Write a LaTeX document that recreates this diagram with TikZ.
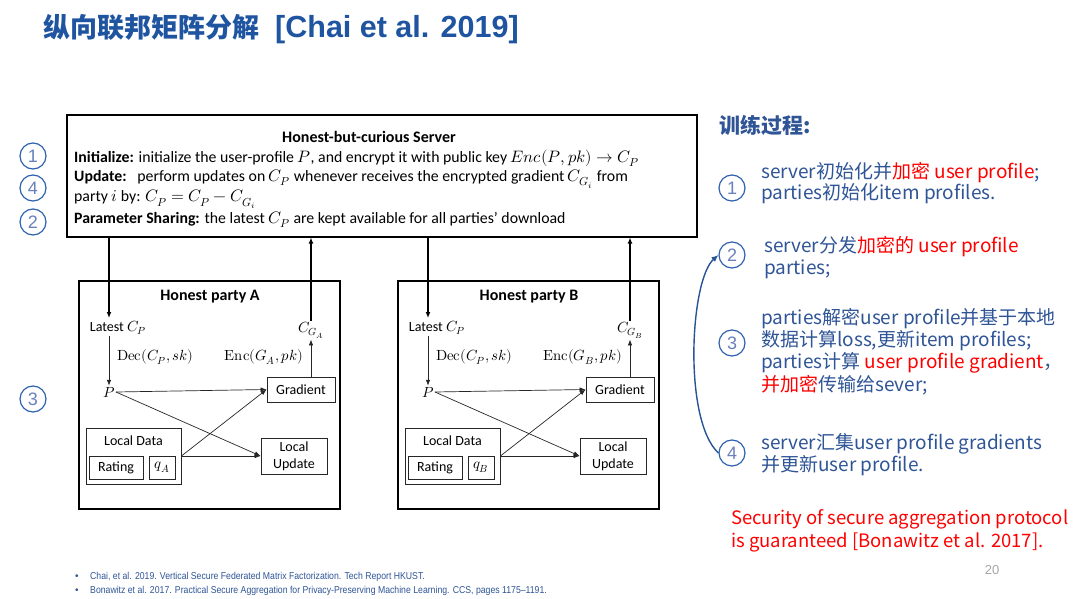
\documentclass[tikz,border=0pt]{standalone}
\usepackage{fontspec}
\usepackage{unicode-math}
\setmainfont{Carlito}
\setmathfont{Latin Modern Math}[Scale=1.05]
\newfontfamily\cjk{Noto Sans CJK SC}
\newfontfamily\arialf{Liberation Sans}
\usetikzlibrary{arrows.meta}
\definecolor{titleblue}{HTML}{1F55A0}
\definecolor{txtblue}{HTML}{2F5597}
\definecolor{circblue}{HTML}{2F62B0}
\definecolor{numblue}{HTML}{6A80BC}
\definecolor{pgray}{HTML}{A6A6A6}
\newcommand\fsz[2]{\fontsize{#1}{#2}\selectfont}
\tikzset{
  box/.style={draw=black, line width=1.1pt, inner sep=0pt},
  sbox/.style={draw=black!85, line width=0.8pt, inner sep=0pt, font=\fsz{14}{17}, align=center},
  bigarr/.style={line width=1.3pt, -{Latex[length=6pt,width=5pt]}},
  thinarr/.style={line width=0.7pt, draw=black!85, -{Latex[length=6pt,width=4.5pt]}},
  numc/.style={circle, draw=circblue, line width=1.2pt, minimum size=26pt, inner sep=0pt, text=numblue, font=\arialf\fsz{18}{18}},
  rtxt/.style={anchor=base west, inner sep=0pt, font=\cjk\fsz{19}{22}, text=txtblue},
  ltxt/.style={anchor=base west, inner sep=0pt, font=\fsz{15.8}{18}},
  lbl/.style={inner sep=1pt, font=\fsz{14}{16}},
}
\newcommand\party[2]{%
\begin{scope}[xshift=#2]
  \node[box, minimum width=261pt, minimum height=228pt] (box#1) at (209.5,395) {};
  \node[font=\bfseries\fsz{16}{18}] (title#1) at (210,297) {Honest party #1};
  \node[lbl] (lat#1) at (118,328) {Latest $C_P$};
  \node[lbl] (P#1) at (109,392) {$P$};
  \node[lbl, anchor=west] (dec#1) at (116,357) {$\symup{Dec}(C_P, sk)$};
  \node[lbl] (cg#1) at (311,330) {$C_{G_#1}$};
  \node[lbl, anchor=east] (enc#1) at (304,357) {$\symup{Enc}(G_#1, pk)$};
  \node[sbox, minimum width=68pt, minimum height=25pt] (grad#1) at (301,389.5) {Gradient};
  \node[sbox, minimum width=95pt, minimum height=56pt] (ld#1) at (133.5,456) {};
  \node[inner sep=0pt, font=\fsz{14}{16}] (ldt#1) at (133.5,441) {Local Data};
  \node[sbox, minimum width=54pt, minimum height=23pt] (rat#1) at (116,467.5) {Rating};
  \node[sbox, minimum width=26pt, minimum height=23pt] (q#1) at (162,467.5) {$q_#1$};
  \node[sbox, minimum width=66pt, minimum height=36pt] (lu#1) at (294,456) {Local\\Update};
  \coordinate (in#1) at (109,318);
  \draw[bigarr] (server.south -| in#1) -- (in#1);
  \draw[bigarr] (cg#1.north) -- (server.south -| cg#1.north);
  \draw[thinarr] (P#1 |- lat#1.south) -- (P#1.north);
  \draw[thinarr] (grad#1.north -| cg#1) -- (cg#1.south);
  \draw[thinarr] (P#1.east) -- (grad#1.west);
  \draw[thinarr] (P#1.east) -- (lu#1.west);
  \draw[thinarr] (ld#1.east) -- (grad#1.west);
  \draw[thinarr] (ld#1.east) -- (lu#1.west);
\end{scope}}
\begin{document}
\begin{tikzpicture}[x=1pt, y=-1pt]
\useasboundingbox[fill=white] (0,0) rectangle (1080,599);
% title
\node[anchor=base west, inner sep=0pt, font=\bfseries, text=titleblue] (title) at (43,38) {{\cjk\fsz{27}{30}纵向联邦矩阵分解}\hspace{16pt}{\arialf\fsz{30.5}{32}[Chai et al. 2019]}};
% server
\node[box, minimum width=630pt, minimum height=122pt] (server) at (382,176) {};
\node[font=\bfseries\fsz{16}{18}] (stitle) at (369,137) {Honest-but-curious Server};
\node[ltxt] (l1) at (74,162.5) {\textbf{Initialize:} initialize the user-profile $P$, and encrypt it with public key $Enc(P,pk)\rightarrow C_P$};
\node[ltxt] (l2) at (74,181.5) {\textbf{Update:}\ \ \ perform updates on $C_P$ whenever receives the encrypted gradient \smash{$C_{G_i}$} from};
\node[ltxt] (l3) at (74,202) {party $i$ by: \smash{$C_P = C_P - C_{G_i}$}};
\node[ltxt] (l4) at (74,223.5) {\textbf{Parameter Sharing:} the latest $C_P$ are kept available for all parties’ download};
% parties
\party{A}{0pt}
\party{B}{319pt}
% left circles
\node[numc] (n1) at (33,156) {1};
\node[numc] (n4) at (33,188) {4};
\node[numc] (n2) at (33,222) {2};
\node[numc] (n3) at (33,399) {3};
% right panel
\node[rtxt, font=\cjk\bfseries\fsz{21}{24}] (hdr) at (719,134) {训练过程:};
\node[numc] (r1) at (732,188) {1};
\node[numc] (r2) at (732,255) {2};
\node[numc] (r3) at (732,343) {3};
\node[numc] (r4) at (732,453) {4};
\node[rtxt] (t1a) at (761,178.5) {server初始化并\textcolor{red}{加密 user profile};};
\node[rtxt] (t1b) at (761,199.5) {parties初始化item profiles.};
\node[rtxt] (t2a) at (764,252.5) {server分发\textcolor{red}{加密的 user profile}};
\node[rtxt] (t2b) at (764,274.5) {parties;};
\node[rtxt] (t3a) at (761,324.5) {parties解密user profile并基于本地};
\node[rtxt] (t3b) at (761,346.5) {数据计算loss,更新item profiles;};
\node[rtxt] (t3c) at (761,368.5) {parties计算 \textcolor{red}{user profile gradient}，};
\node[rtxt] (t3d) at (761,391.5) {\textcolor{red}{并加密}传输给sever;};
\node[rtxt] (t4a) at (761,449.5) {server汇集user profile gradients};
\node[rtxt] (t4b) at (761,471.5) {并更新user profile.};
\node[rtxt, text=red, font=\cjk\fsz{18.5}{20}] (s1) at (731,524.5) {Security of secure aggregation protocol};
\node[rtxt, text=red, font=\cjk\fsz{18.5}{20}] (s2) at (731,547.5) {is guaranteed [Bonawitz et al. 2017].};
\draw[line width=1.4pt, draw=circblue!85!black, -{Latex[length=7pt,width=6pt]}] (r4.west) .. controls (683,420) and (690,280) .. (r2.west);
% footnotes
\node[anchor=base west, inner sep=0pt, font=\arialf\fsz{10}{11}, text=txtblue] (b1) at (75,579.5) {•};
\node[anchor=base west, inner sep=0pt, font=\arialf\fsz{10}{11}, text=txtblue] (b2) at (75,593.5) {•};
\node[anchor=base west, inner sep=0pt, font=\arialf\fsz{10}{11}, text=txtblue] (f1) at (90,579.5) {\scalebox{0.87}[1]{Chai, et al. 2019. Vertical Secure Federated Matrix Factorization. Tech Report HKUST.}};
\node[anchor=base west, inner sep=0pt, font=\arialf\fsz{10}{11}, text=txtblue] (f2) at (90,593.5) {\scalebox{0.87}[1]{Bonawitz et al. 2017. Practical Secure Aggregation for Privacy-Preserving Machine Learning. CCS, pages 1175–1191.}};
\node[font=\arialf\fsz{13}{15}, text=pgray] (pg) at (992,570) {20};
\end{tikzpicture}
\end{document}
